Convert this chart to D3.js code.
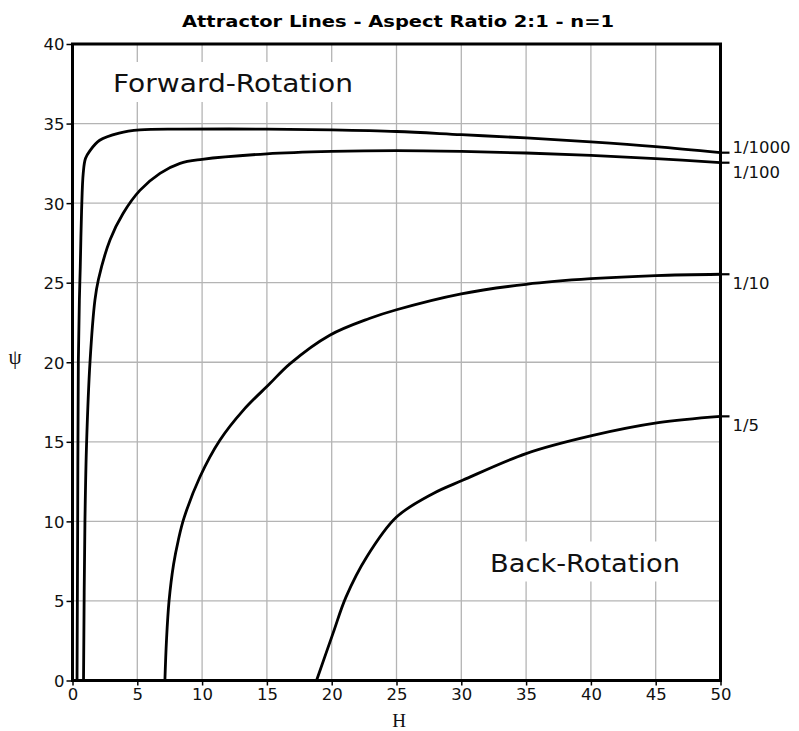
<!DOCTYPE html>
<html>
<head>
<meta charset="utf-8">
<script src="https://cdn.jsdelivr.net/npm/d3@7"></script>
<style>
  html, body { margin: 0; padding: 0; background: #fff; }
  svg { display: block; }
  .tick text { font-family: 'DejaVu Sans', sans-serif; font-size: 16.5px; fill: #111; }
  .tick line { stroke: #000; stroke-width: 1.5; }
  .domain { display: none; }
  .grid line { stroke: #b4b4b4; stroke-width: 1.3; }
  .curve { fill: none; stroke: #000; stroke-width: 2.8; stroke-linejoin: round; }
  .curve-label { font-family: 'DejaVu Sans', sans-serif; font-size: 16.5px; fill: #111; }
  .region-label { font-family: 'DejaVu Sans', sans-serif; font-size: 24px; fill: #111; }
  .axis-title { font-family: 'Liberation Serif', serif; fill: #111; }
</style>
</head>
<body>
<div id="chart"></div>
<script>
// data
const ratioLabels = ['1/1000', '1/100', '1/10', '1/5'];

const h1000 = [0.35, 0.4, 0.45, 0.53, 0.6, 0.7, 0.83, 1.0, 1.35, 2.1, 3.6, 5.2, 8.3, 15, 20, 25, 30, 35, 40, 45, 50];
const psi1000 = [0, 10, 20, 23.9, 26, 29.5, 31.9, 32.8, 33.3, 33.95, 34.4, 34.6, 34.65, 34.65, 34.6, 34.5, 34.3, 34.1, 33.85, 33.55, 33.17];

const h100 = [0.85, 0.96, 1.09, 1.35, 1.73, 2.0, 2.9, 3.9, 5.2, 6.75, 8.3, 10, 15, 20, 25, 30, 35, 40, 45, 50];
const psi100 = [0, 10, 15, 20, 23.9, 25.2, 27.7, 29.35, 30.8, 31.87, 32.5, 32.75, 33.1, 33.25, 33.3, 33.25, 33.15, 33.0, 32.8, 32.54];

const h10 = [7.13, 7.25, 7.45, 7.8, 8.16, 8.6, 9.83, 11.37, 13.17, 15.23, 16.77, 19.85, 22.9, 25, 30, 35, 40, 45, 50];
const psi10 = [0, 2.5, 5.0, 7.3, 8.8, 10.2, 12.79, 15.1, 16.98, 18.66, 19.9, 21.7, 22.75, 23.3, 24.3, 24.9, 25.25, 25.45, 25.53];

const h5 = [18.83, 20.1, 21.1, 22.7, 25.0, 27.8, 30.1, 35, 40.15, 45.2, 50];
const psi5 = [0, 2.96, 5.24, 7.76, 10.27, 11.74, 12.58, 14.26, 15.4, 16.2, 16.6];

const xTicks = [0, 5, 10, 15, 20, 25, 30, 35, 40, 45, 50];
const yTicks = [0, 5, 10, 15, 20, 25, 30, 35, 40];

const series = ratioLabels.map((label, i) => ({
  label,
  points: d3.zip([h1000, h100, h10, h5][i], [psi1000, psi100, psi10, psi5][i]),
}));

// dimensions
const WIDTH = 799;
const HEIGHT = 731;
const MARGIN_TOP = 44;
const MARGIN_BOTTOM = 50.5;
const MARGIN_LEFT = 72.5;
const MARGIN_RIGHT = 78.5;
const width = WIDTH - MARGIN_LEFT - MARGIN_RIGHT;
const height = HEIGHT - MARGIN_TOP - MARGIN_BOTTOM;

// scales
const scaleX = d3.scaleLinear().domain([0, 50]).range([0, width]);
const scaleY = d3.scaleLinear().domain([0, 40]).range([height, 0]);

const $svg = d3
  .select('#chart')
  .append('svg')
  .attr('width', WIDTH)
  .attr('height', HEIGHT);

// title
$svg
  .append('text')
  .attr('x', 398)
  .attr('y', 27)
  .attr('text-anchor', 'middle')
  .attr('textLength', 432)
  .attr('lengthAdjust', 'spacingAndGlyphs')
  .style('font-family', "'DejaVu Sans', sans-serif")
  .style('font-weight', 'bold')
  .style('font-size', '16.5px')
  .text('Attractor Lines - Aspect Ratio 2:1 - n=1');

const $vis = $svg
  .append('g')
  .attr('transform', `translate(${MARGIN_LEFT}, ${MARGIN_TOP})`);

// grid
const $grid = $vis.append('g').attr('class', 'grid');

$grid
  .selectAll('line.gx')
  .data(xTicks.slice(1, -1))
  .join('line')
  .attr('class', 'gx')
  .attr('x1', (d) => scaleX(d))
  .attr('x2', (d) => scaleX(d))
  .attr('y1', 0)
  .attr('y2', height);

$grid
  .selectAll('line.gy')
  .data(yTicks.slice(1, -1))
  .join('line')
  .attr('class', 'gy')
  .attr('x1', 0)
  .attr('x2', width)
  .attr('y1', (d) => scaleY(d))
  .attr('y2', (d) => scaleY(d));

// region labels sit on a white patch that breaks the grid
function regionLabel(text, x, y, len) {
  const $g = $vis.append('g');
  $g.append('rect')
    .attr('x', x - 5)
    .attr('y', y - 30)
    .attr('width', len + 10)
    .attr('height', 40)
    .attr('fill', '#fff');
  $g.append('text')
    .attr('class', 'region-label')
    .attr('x', x)
    .attr('y', y)
    .attr('textLength', len)
    .attr('lengthAdjust', 'spacingAndGlyphs')
    .text(text);
}
regionLabel('Forward-Rotation', 40.5, 48, 240);
regionLabel('Back-Rotation', 417.5, 527.5, 190);

// axes
$vis
  .append('g')
  .attr('transform', `translate(0, ${height})`)
  .call(d3.axisBottom(scaleX).tickValues(xTicks).tickSize(5).tickPadding(3));

$vis
  .append('g')
  .call(d3.axisLeft(scaleY).tickValues(yTicks).tickSize(6).tickPadding(2))
  .call((g) => g.selectAll('.tick text').attr('dy', '0.36em'));

// curves
const line = d3
  .line()
  .x((d) => scaleX(d[0]))
  .y((d) => scaleY(d[1]))
  .curve(d3.curveCatmullRom.alpha(0.5));

$vis
  .selectAll('.curve')
  .data(series)
  .join('path')
  .attr('class', 'curve')
  .attr('d', (d) => line(d.points));

// short leaders past the right frame
$vis
  .selectAll('.leader')
  .data(series)
  .join('line')
  .attr('class', 'leader')
  .attr('x1', scaleX(50))
  .attr('x2', scaleX(50) + 9)
  .attr('y1', (d) => scaleY(d.points[d.points.length - 1][1]))
  .attr('y2', (d) => scaleY(d.points[d.points.length - 1][1]))
  .attr('stroke', '#000')
  .attr('stroke-width', 2.2);

$vis
  .selectAll('.curve-label')
  .data(series)
  .join('text')
  .attr('class', 'curve-label')
  .attr('x', scaleX(50) + 12)
  .attr('y', (d) => scaleY(d.points[d.points.length - 1][1]) + (d.label === '1/1000' ? 0 : 15))
  .text((d) => d.label);

// frame
$vis
  .append('rect')
  .attr('width', width)
  .attr('height', height)
  .attr('fill', 'none')
  .attr('stroke', '#000')
  .attr('stroke-width', 3);

// axis titles
$svg
  .append('text')
  .attr('class', 'axis-title')
  .attr('x', 399)
  .attr('y', 727)
  .attr('text-anchor', 'middle')
  .style('font-size', '19px')
  .text('H');

$svg
  .append('text')
  .attr('class', 'axis-title')
  .attr('x', 15)
  .attr('y', 364)
  .attr('text-anchor', 'middle')
  .style('font-size', '21px')
  .text('ψ');
</script>
</body>
</html>
